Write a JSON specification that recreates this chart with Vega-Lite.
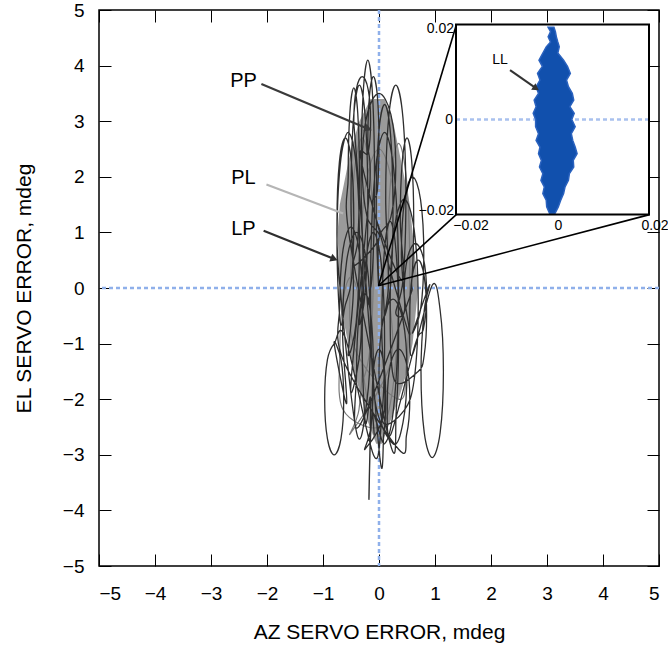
{
  "$schema": "https://vega.github.io/schema/vega-lite/v6.json",
  "width": 560,
  "height": 556,
  "autosize": {"type": "none"},
  "padding": {"left": 99, "top": 10, "right": 9, "bottom": 79},
  "background": "white",
  "config": {
    "view": {"stroke": "#000", "strokeWidth": 1.5},
    "axis": {"grid": false, "labelFont": "Liberation Sans", "titleFont": "Liberation Sans", "labelColor": "#000", "titleColor": "#000", "tickColor": "#000", "domainColor": "#000"},
    "text": {"font": "Liberation Sans"}
  },
  "datasets": {
    "dark": [
      {"i":0,"x":-0.2,"y":-0.3},{"i":1,"x":-0.115,"y":0.34},{"i":2,"x":-0.08,"y":1.9},{"i":3,"x":-0.115,"y":3.46},{"i":4,"x":-0.2,"y":4.1},{"i":5,"x":-0.285,"y":3.46},{"i":6,"x":-0.32,"y":1.9},{"i":7,"x":-0.285,"y":0.34},
      {"i":8,"x":-0.35,"y":-0.65},{"i":9,"x":-0.243,"y":-0.03},{"i":10,"x":-0.2,"y":1.5},{"i":11,"x":-0.243,"y":3.03},{"i":12,"x":-0.35,"y":3.65},{"i":13,"x":-0.457,"y":3.03},{"i":14,"x":-0.5,"y":1.5},{"i":15,"x":-0.457,"y":-0.03},
      {"i":16,"x":-0.55,"y":-1.2},{"i":17,"x":-0.408,"y":-0.62},{"i":18,"x":-0.35,"y":0.8},{"i":19,"x":-0.408,"y":2.22},{"i":20,"x":-0.55,"y":2.8},{"i":21,"x":-0.692,"y":2.22},{"i":22,"x":-0.75,"y":0.8},{"i":23,"x":-0.692,"y":-0.62},
      {"i":24,"x":-0.6,"y":-0.3},{"i":25,"x":-0.493,"y":0.13},{"i":26,"x":-0.45,"y":1.2},{"i":27,"x":-0.493,"y":2.27},{"i":28,"x":-0.6,"y":2.7},{"i":29,"x":-0.707,"y":2.27},{"i":30,"x":-0.75,"y":1.2},{"i":31,"x":-0.707,"y":0.13},
      {"i":32,"x":-0.4,"y":-2.6},{"i":33,"x":-0.222,"y":-2.08},{"i":34,"x":-0.15,"y":-0.8},{"i":35,"x":-0.222,"y":0.48},{"i":36,"x":-0.4,"y":1.0},{"i":37,"x":-0.578,"y":0.48},{"i":38,"x":-0.65,"y":-0.8},{"i":39,"x":-0.578,"y":-2.08},
      {"i":40,"x":-0.8,"y":-1.0},{"i":41,"x":-0.679,"y":-1.29},{"i":42,"x":-0.63,"y":-2.0},{"i":43,"x":-0.679,"y":-2.71},{"i":44,"x":-0.8,"y":-3.0},{"i":45,"x":-0.921,"y":-2.71},{"i":46,"x":-0.97,"y":-2.0},{"i":47,"x":-0.921,"y":-1.29},{"i":48,"x":-0.8,"y":-1.0},{"i":49,"x":-0.6,"y":-0.9},
      {"i":50,"x":-0.1,"y":-3.0},{"i":51,"x":0.042,"y":-2.42},{"i":52,"x":0.1,"y":-1.0},{"i":53,"x":0.042,"y":0.42},{"i":54,"x":-0.1,"y":1.0},{"i":55,"x":-0.242,"y":0.42},{"i":56,"x":-0.3,"y":-1.0},{"i":57,"x":-0.242,"y":-2.42},
      {"i":58,"x":-0.15,"y":-2.0},{"i":59,"x":-0.18,"y":-3.8},{"i":60,"x":-0.12,"y":-2.3},
      {"i":61,"x":0.1,"y":-2.8},{"i":62,"x":0.278,"y":-1.99},{"i":63,"x":0.35,"y":0},{"i":64,"x":0.278,"y":1.99},{"i":65,"x":0.1,"y":2.8},{"i":66,"x":-0.078,"y":1.99},{"i":67,"x":-0.15,"y":0},{"i":68,"x":-0.078,"y":-1.99},
      {"i":69,"x":0.25,"y":-2.8},{"i":70,"x":0.428,"y":-2.42},{"i":71,"x":0.5,"y":-1.5},{"i":72,"x":0.428,"y":-0.58},{"i":73,"x":0.25,"y":-0.2},{"i":74,"x":0.072,"y":-0.58},{"i":75,"x":0,"y":-1.5},{"i":76,"x":0.072,"y":-2.42},
      {"i":77,"x":0.45,"y":-2.2},{"i":78,"x":0.628,"y":-1.65},{"i":79,"x":0.7,"y":-0.3},{"i":80,"x":0.628,"y":1.05},{"i":81,"x":0.45,"y":1.6},{"i":82,"x":0.272,"y":1.05},{"i":83,"x":0.2,"y":-0.3},{"i":84,"x":0.272,"y":-1.65},
      {"i":85,"x":0.7,"y":-1.5},{"i":86,"x":0.807,"y":-1.21},{"i":87,"x":0.85,"y":-0.5},{"i":88,"x":0.807,"y":0.21},{"i":89,"x":0.7,"y":0.5},{"i":90,"x":0.593,"y":0.21},{"i":91,"x":0.55,"y":-0.5},{"i":92,"x":0.593,"y":-1.21},
      {"i":93,"x":0.95,"y":0.05},{"i":94,"x":1.092,"y":-0.4},{"i":95,"x":1.15,"y":-1.5},{"i":96,"x":1.092,"y":-2.6},{"i":97,"x":0.95,"y":-3.05},{"i":98,"x":0.808,"y":-2.6},{"i":99,"x":0.75,"y":-1.5},{"i":100,"x":0.808,"y":-0.4},{"i":101,"x":0.9,"y":0.05},
      {"i":102,"x":0.6,"y":-0.8},{"i":103,"x":0.742,"y":-0.39},{"i":104,"x":0.8,"y":0.6},{"i":105,"x":0.742,"y":1.59},{"i":106,"x":0.6,"y":2.0},{"i":107,"x":0.458,"y":1.59},{"i":108,"x":0.4,"y":0.6},{"i":109,"x":0.458,"y":-0.39},
      {"i":110,"x":0.3,"y":-0.45},{"i":111,"x":0.428,"y":0.14},{"i":112,"x":0.48,"y":1.6},{"i":113,"x":0.428,"y":3.06},{"i":114,"x":0.3,"y":3.65},{"i":115,"x":0.172,"y":3.06},{"i":116,"x":0.12,"y":1.6},{"i":117,"x":0.172,"y":0.14},
      {"i":118,"x":0.1,"y":-0.5},{"i":119,"x":0.207,"y":0.05},{"i":120,"x":0.25,"y":1.4},{"i":121,"x":0.207,"y":2.75},{"i":122,"x":0.1,"y":3.3},{"i":123,"x":-0.007,"y":2.75},{"i":124,"x":-0.05,"y":1.4},{"i":125,"x":-0.007,"y":0.05},
      {"i":126,"x":0,"y":0.9},{"i":127,"x":0.213,"y":1.28},{"i":128,"x":0.3,"y":2.2},{"i":129,"x":0.213,"y":3.12},{"i":130,"x":0,"y":3.5},{"i":131,"x":-0.213,"y":3.12},{"i":132,"x":-0.3,"y":2.2},{"i":133,"x":-0.213,"y":1.28},{"i":134,"x":0,"y":0.9},
      {"i":135,"x":-0.45,"y":0.4},{"i":136,"x":-0.379,"y":0.86},{"i":137,"x":-0.35,"y":2.0},{"i":138,"x":-0.379,"y":3.14},{"i":139,"x":-0.45,"y":3.6},{"i":140,"x":-0.521,"y":3.14},{"i":141,"x":-0.55,"y":2.0},{"i":142,"x":-0.521,"y":0.86},
      {"i":143,"x":0.2,"y":-2.8},{"i":144,"x":0.307,"y":-2.22},{"i":145,"x":0.35,"y":-0.8},{"i":146,"x":0.307,"y":0.62},{"i":147,"x":0.2,"y":1.2},{"i":148,"x":0.093,"y":0.62},{"i":149,"x":0.05,"y":-0.8},{"i":150,"x":0.093,"y":-2.22},
      {"i":151,"x":-0.25,"y":-2.9},{"i":152,"x":-0.143,"y":-2.49},{"i":153,"x":-0.1,"y":-1.5},{"i":154,"x":-0.143,"y":-0.51},{"i":155,"x":-0.25,"y":-0.1},{"i":156,"x":-0.357,"y":-0.51},{"i":157,"x":-0.4,"y":-1.5},{"i":158,"x":-0.357,"y":-2.49},
      {"i":159,"x":0.5,"y":-0.3},{"i":160,"x":0.585,"y":0.13},{"i":161,"x":0.62,"y":1.2},{"i":162,"x":0.585,"y":2.27},{"i":163,"x":0.5,"y":2.7},{"i":164,"x":0.415,"y":2.27},{"i":165,"x":0.38,"y":1.2},{"i":166,"x":0.415,"y":0.13},
      {"i":167,"x":-0.1,"y":1.4},{"i":168,"x":-0.029,"y":1.75},{"i":169,"x":0,"y":2.6},{"i":170,"x":-0.029,"y":3.45},{"i":171,"x":-0.1,"y":3.8},{"i":172,"x":-0.171,"y":3.45},{"i":173,"x":-0.2,"y":2.6},{"i":174,"x":-0.171,"y":1.75},
      {"i":175,"x":-0.5,"y":-1.7},{"i":176,"x":-0.358,"y":-1.29},{"i":177,"x":-0.3,"y":-0.3},{"i":178,"x":-0.358,"y":0.69},{"i":179,"x":-0.5,"y":1.1},{"i":180,"x":-0.642,"y":0.69},{"i":181,"x":-0.7,"y":-0.3},{"i":182,"x":-0.642,"y":-1.29},
      {"i":183,"x":0.35,"y":-2.9},{"i":184,"x":0.492,"y":-2.64},{"i":185,"x":0.55,"y":-2.0},{"i":186,"x":0.492,"y":-1.36},{"i":187,"x":0.35,"y":-1.1},{"i":188,"x":0.208,"y":-1.36},{"i":189,"x":0.15,"y":-2.0},{"i":190,"x":0.208,"y":-2.64},
      {"i":191,"x":0.65,"y":-1.0},{"i":192,"x":0.792,"y":-0.74},{"i":193,"x":0.85,"y":-0.1},{"i":194,"x":0.792,"y":0.54},{"i":195,"x":0.65,"y":0.8},{"i":196,"x":0.508,"y":0.54},{"i":197,"x":0.45,"y":-0.1},{"i":198,"x":0.508,"y":-0.74},
      {"i":199,"x":-0.3,"y":2.2},{"i":200,"x":-0.193,"y":2.43},{"i":201,"x":-0.15,"y":3.0},{"i":202,"x":-0.193,"y":3.57},{"i":203,"x":-0.3,"y":3.8},{"i":204,"x":-0.407,"y":3.57},{"i":205,"x":-0.45,"y":3.0},{"i":206,"x":-0.407,"y":2.43},
      {"i":207,"x":0,"y":-2.9},{"i":208,"x":0.085,"y":-2.64},{"i":209,"x":0.12,"y":-2.0},{"i":210,"x":0.085,"y":-1.36},{"i":211,"x":0,"y":-1.1},{"i":212,"x":-0.085,"y":-1.36},{"i":213,"x":-0.12,"y":-2.0},{"i":214,"x":-0.085,"y":-2.64}
    ],
    "light": [
      {"i":0,"x":-0.3,"y":-1.7},{"i":1,"x":-0.158,"y":-1.06},{"i":2,"x":-0.1,"y":0.5},{"i":3,"x":-0.158,"y":2.06},{"i":4,"x":-0.3,"y":2.7},{"i":5,"x":-0.442,"y":2.06},{"i":6,"x":-0.5,"y":0.5},{"i":7,"x":-0.442,"y":-1.06},
      {"i":8,"x":0.35,"y":-2.0},{"i":9,"x":0.492,"y":-1.33},{"i":10,"x":0.55,"y":0.3},{"i":11,"x":0.492,"y":1.93},{"i":12,"x":0.35,"y":2.6},{"i":13,"x":0.208,"y":1.93},{"i":14,"x":0.15,"y":0.3},{"i":15,"x":0.208,"y":-1.33},
      {"i":16,"x":-0.5,"y":-2.6},{"i":17,"x":-0.358,"y":-2.19},{"i":18,"x":-0.3,"y":-1.2},{"i":19,"x":-0.358,"y":-0.21},{"i":20,"x":-0.5,"y":0.2},{"i":21,"x":-0.642,"y":-0.21},{"i":22,"x":-0.7,"y":-1.2},{"i":23,"x":-0.642,"y":-2.19},
      {"i":24,"x":0,"y":-2.5},{"i":25,"x":0.249,"y":-1.78},{"i":26,"x":0.35,"y":0},{"i":27,"x":0.249,"y":1.78},{"i":28,"x":0,"y":2.5},{"i":29,"x":-0.249,"y":1.78},{"i":30,"x":-0.35,"y":0},{"i":31,"x":-0.249,"y":-1.78},{"i":32,"x":0,"y":-2.5}
    ],
    "core": [
      {"y":-2.8,"x1":-0.05,"x2":0.05},{"y":-2.4,"x1":-0.2,"x2":0.2},{"y":-2.0,"x1":-0.3,"x2":0.35},{"y":-1.5,"x1":-0.45,"x2":0.5},
      {"y":-1.0,"x1":-0.55,"x2":0.6},{"y":-0.5,"x1":-0.65,"x2":0.65},{"y":0,"x1":-0.7,"x2":0.7},{"y":0.5,"x1":-0.72,"x2":0.65},
      {"y":1.0,"x1":-0.74,"x2":0.6},{"y":1.5,"x1":-0.7,"x2":0.55},{"y":2.0,"x1":-0.6,"x2":0.45},{"y":2.5,"x1":-0.5,"x2":0.35},
      {"y":3.0,"x1":-0.35,"x2":0.25},{"y":3.4,"x1":-0.15,"x2":0.1}
    ],
    "labels": [
      {"t":"PP","x":-2.42,"y":3.73},{"t":"PL","x":-2.42,"y":1.98},{"t":"LP","x":-2.42,"y":1.07}
    ],
    "arrows": [
      {"k":"PP","x":-2.1,"y":3.67,"x2":-0.21,"y2":2.87,"a":113},
      {"k":"PL","x":-2.01,"y":1.86,"x2":-0.64,"y2":1.34,"a":110},
      {"k":"LP","x":-2.06,"y":1.03,"x2":-0.82,"y2":0.53,"a":111}
    ],
    "zoomlines": [
      {"x":-0.01,"y":0.04,"x2":1.38,"y2":4.73},
      {"x":-0.01,"y":0.04,"x2":1.38,"y2":1.32},
      {"x":-0.01,"y":0.04,"x2":4.83,"y2":1.32}
    ],
    "blob": [
      {"y":0.0194,"x1":-0.0009,"x2":0.0003},{"y":0.0185,"x1":-0.0004,"x2":0.0006},{"y":0.0174,"x1":-0.0009,"x2":0.0008},
      {"y":0.0163,"x1":-0.0004,"x2":0.0011},{"y":0.0153,"x1":-0.0013,"x2":0.0014},{"y":0.014,"x1":-0.002,"x2":0.0011},
      {"y":0.0125,"x1":-0.0028,"x2":0.0023},{"y":0.0112,"x1":-0.0021,"x2":0.0031},{"y":0.0097,"x1":-0.0031,"x2":0.0037},
      {"y":0.0083,"x1":-0.0026,"x2":0.0029},{"y":0.0069,"x1":-0.0034,"x2":0.0033},{"y":0.0055,"x1":-0.0029,"x2":0.0041},
      {"y":0.0041,"x1":-0.0038,"x2":0.0044},{"y":0.0027,"x1":-0.0034,"x2":0.0036},{"y":0.0013,"x1":-0.004,"x2":0.0045},
      {"y":0.0,"x1":-0.0035,"x2":0.004},{"y":-0.0015,"x1":-0.0035,"x2":0.0047},{"y":-0.003,"x1":-0.0029,"x2":0.0039},
      {"y":-0.0044,"x1":-0.0034,"x2":0.0042},{"y":-0.0058,"x1":-0.0026,"x2":0.0047},{"y":-0.0072,"x1":-0.0029,"x2":0.0051},
      {"y":-0.0086,"x1":-0.0023,"x2":0.0043},{"y":-0.01,"x1":-0.0027,"x2":0.0044},{"y":-0.0114,"x1":-0.002,"x2":0.0035},
      {"y":-0.0128,"x1":-0.0024,"x2":0.0033},{"y":-0.0142,"x1":-0.0017,"x2":0.0026},{"y":-0.0156,"x1":-0.002,"x2":0.0023},
      {"y":-0.017,"x1":-0.0013,"x2":0.0017},{"y":-0.0184,"x1":-0.0012,"x2":0.0012},{"y":-0.0198,"x1":-0.0006,"x2":0.0005}
    ],
    "insetTicks": [
      {"t":"\u22120.02","v":-0.02},{"t":"0","v":0},{"t":"0.02","v":0.02}
    ]
  },
  "layer": [
    {
      "layer": [
        {
          "data": {"name": "core"},
          "mark": {"type": "area", "orient": "horizontal", "color": "#959595", "opacity": 0.95},
          "encoding": {
            "y": {"field": "y", "type": "quantitative", "scale": {"domain": [-5, 5], "nice": false, "zero": false},
              "axis": {"values": [-5,-4,-3,-2,-1,0,1,2,3,4,5], "tickSize": -12, "labelPadding": 27, "labelFontSize": 19, "domain": false, "title": "EL SERVO ERROR, mdeg", "titleFontSize": 21, "titleFontWeight": "normal", "titlePadding": 28}},
            "x": {"field": "x1", "type": "quantitative", "scale": {"domain": [-5, 5], "nice": false, "zero": false},
              "axis": {"values": [-5,-4,-3,-2,-1,0,1,2,3,4,5], "tickSize": -12, "labelPadding": 30, "labelFontSize": 19, "domain": false, "title": "AZ SERVO ERROR, mdeg", "titleFontSize": 21, "titleFontWeight": "normal", "titlePadding": 18}},
            "x2": {"field": "x2"}
          }
        },
        {
          "data": {"values": [{}]},
          "mark": {"type": "rule", "color": "#8fb0ea", "strokeWidth": 2.5, "strokeDash": [4, 3]},
          "encoding": {"x": {"datum": 0, "type": "quantitative"}}
        },
        {
          "data": {"values": [{}]},
          "mark": {"type": "rule", "color": "#8fb0ea", "strokeWidth": 2.5, "strokeDash": [4, 3]},
          "encoding": {"y": {"datum": 0, "type": "quantitative"}}
        },
        {
          "data": {"name": "light"},
          "mark": {"type": "line", "color": "#7a7a7a", "strokeWidth": 1.2, "interpolate": "cardinal"},
          "encoding": {
            "x": {"field": "x", "type": "quantitative"},
            "y": {"field": "y", "type": "quantitative"},
            "order": {"field": "i"}
          }
        },
        {
          "data": {"name": "dark"},
          "mark": {"type": "line", "color": "#2e2e2e", "strokeWidth": 1.3, "interpolate": "cardinal"},
          "encoding": {
            "x": {"field": "x", "type": "quantitative"},
            "y": {"field": "y", "type": "quantitative"},
            "order": {"field": "i"}
          }
        },
        {
          "data": {"name": "arrows"},
          "mark": {"type": "rule", "strokeWidth": 2.2},
          "encoding": {
            "x": {"field": "x", "type": "quantitative"},
            "y": {"field": "y", "type": "quantitative"},
            "x2": {"field": "x2"},
            "y2": {"field": "y2"},
            "color": {"field": "k", "type": "nominal", "scale": {"domain": ["PP", "PL", "LP"], "range": ["#3a3a3a", "#b5b5b5", "#2e2e2e"]}, "legend": null}
          }
        },
        {
          "data": {"name": "arrows"},
          "transform": [{"filter": "datum.k !== 'PL'"}],
          "mark": {"type": "point", "shape": "triangle", "filled": true, "size": 70, "opacity": 1},
          "encoding": {
            "x": {"field": "x2", "type": "quantitative"},
            "y": {"field": "y2", "type": "quantitative"},
            "angle": {"field": "a", "type": "quantitative", "scale": null},
            "color": {"field": "k", "type": "nominal", "legend": null}
          }
        },
        {
          "data": {"name": "labels"},
          "mark": {"type": "text", "fontSize": 20, "color": "#000"},
          "encoding": {
            "x": {"field": "x", "type": "quantitative"},
            "y": {"field": "y", "type": "quantitative"},
            "text": {"field": "t"}
          }
        },
        {
          "data": {"name": "zoomlines"},
          "mark": {"type": "rule", "color": "#000", "strokeWidth": 1.6},
          "encoding": {
            "x": {"field": "x", "type": "quantitative"},
            "y": {"field": "y", "type": "quantitative"},
            "x2": {"field": "x2"},
            "y2": {"field": "y2"}
          }
        }
      ]
    },
    {
      "layer": [
        {
          "data": {"values": [{"x": -5, "y": -5}, {"x": 5, "y": 5}]},
          "mark": {"type": "point", "opacity": 0},
          "encoding": {
            "x": {"field": "x", "type": "quantitative", "scale": {"domain": [-5, 5], "nice": false, "zero": false},
              "axis": {"orient": "top", "values": [-5,-4,-3,-2,-1,0,1,2,3,4,5], "tickSize": -12, "labels": false, "domain": false, "title": null}},
            "y": {"field": "y", "type": "quantitative", "scale": {"domain": [-5, 5], "nice": false, "zero": false},
              "axis": {"orient": "right", "values": [-5,-4,-3,-2,-1,0,1,2,3,4,5], "tickSize": -12, "labels": false, "domain": false, "title": null}}
          }
        }
      ]
    },
    {
      "layer": [
        {
          "data": {"values": [{}]},
          "mark": {"type": "rect", "fill": "white", "stroke": null},
          "encoding": {
            "x": {"datum": -0.02, "type": "quantitative", "scale": {"domain": [-0.02, 0.02], "range": [357, 550], "nice": false, "zero": false}, "axis": null},
            "x2": {"datum": 0.02},
            "y": {"datum": -0.02, "type": "quantitative", "scale": {"domain": [-0.02, 0.02], "range": [204.5, 14.5], "nice": false, "zero": false}, "axis": null},
            "y2": {"datum": 0.02}
          }
        },
        {
          "data": {"values": [{}]},
          "mark": {"type": "rule", "color": "#a9c1ee", "strokeWidth": 2.5, "strokeDash": [4, 3]},
          "encoding": {
            "x": {"datum": -0.02, "type": "quantitative", "axis": null},
            "x2": {"datum": 0.02},
            "y": {"datum": 0, "type": "quantitative", "axis": null}
          }
        },
        {
          "data": {"name": "blob"},
          "mark": {"type": "area", "orient": "horizontal", "color": "#1150ad", "stroke": "#2a62bf", "strokeWidth": 1.5},
          "encoding": {
            "y": {"field": "y", "type": "quantitative", "axis": null},
            "x": {"field": "x1", "type": "quantitative", "axis": null},
            "x2": {"field": "x2"}
          }
        },
        {
          "data": {"values": [{"x": -0.0088, "y": 0.0104, "x2": -0.0036, "y2": 0.0067}]},
          "mark": {"type": "rule", "color": "#333", "strokeWidth": 2},
          "encoding": {
            "x": {"field": "x", "type": "quantitative", "axis": null},
            "y": {"field": "y", "type": "quantitative", "axis": null},
            "x2": {"field": "x2"},
            "y2": {"field": "y2"}
          }
        },
        {
          "data": {"values": [{"x": -0.0036, "y": 0.0067, "a": 124}]},
          "mark": {"type": "point", "shape": "triangle", "filled": true, "size": 60, "color": "#333", "opacity": 1},
          "encoding": {
            "x": {"field": "x", "type": "quantitative", "axis": null},
            "y": {"field": "y", "type": "quantitative", "axis": null},
            "angle": {"field": "a", "type": "quantitative", "scale": null}
          }
        },
        {
          "data": {"values": [{"t": "LL", "x": -0.0109, "y": 0.0125}]},
          "mark": {"type": "text", "fontSize": 14, "color": "#000"},
          "encoding": {
            "x": {"field": "x", "type": "quantitative", "axis": null},
            "y": {"field": "y", "type": "quantitative", "axis": null},
            "text": {"field": "t"}
          }
        },
        {
          "data": {"values": [{}]},
          "mark": {"type": "rect", "fill": null, "stroke": "#000", "strokeWidth": 2},
          "encoding": {
            "x": {"datum": -0.02, "type": "quantitative", "axis": null},
            "x2": {"datum": 0.02},
            "y": {"datum": -0.02, "type": "quantitative", "axis": null},
            "y2": {"datum": 0.02}
          }
        },
        {
          "data": {"name": "insetTicks"},
          "transform": [{"filter": "datum.v > 0"}],
          "mark": {"type": "text", "fontSize": 14, "align": "right", "baseline": "middle", "dx": -2, "dy": 4, "color": "#000"},
          "encoding": {
            "x": {"datum": -0.02, "type": "quantitative", "axis": null},
            "y": {"field": "v", "type": "quantitative", "axis": null},
            "text": {"field": "t"}
          }
        },
        {
          "data": {"name": "insetTicks"},
          "transform": [{"filter": "datum.v === 0"}],
          "mark": {"type": "text", "fontSize": 14, "align": "right", "baseline": "middle", "dx": -3, "color": "#000"},
          "encoding": {
            "x": {"datum": -0.02, "type": "quantitative", "axis": null},
            "y": {"field": "v", "type": "quantitative", "axis": null},
            "text": {"field": "t"}
          }
        },
        {
          "data": {"name": "insetTicks"},
          "transform": [{"filter": "datum.v < 0"}],
          "mark": {"type": "text", "fontSize": 14, "align": "right", "baseline": "middle", "dx": -2, "dy": -4, "color": "#000"},
          "encoding": {
            "x": {"datum": -0.02, "type": "quantitative", "axis": null},
            "y": {"field": "v", "type": "quantitative", "axis": null},
            "text": {"field": "t"}
          }
        },
        {
          "data": {"name": "insetTicks"},
          "transform": [{"filter": "datum.v < 0"}],
          "mark": {"type": "text", "fontSize": 14, "align": "center", "baseline": "top", "dx": 15, "dy": 4, "color": "#000"},
          "encoding": {
            "x": {"field": "v", "type": "quantitative", "axis": null},
            "y": {"datum": -0.02, "type": "quantitative", "axis": null},
            "text": {"field": "t"}
          }
        },
        {
          "data": {"name": "insetTicks"},
          "transform": [{"filter": "datum.v >= 0"}],
          "mark": {"type": "text", "fontSize": 14, "align": "center", "baseline": "top", "dx": 6, "dy": 4, "color": "#000"},
          "encoding": {
            "x": {"field": "v", "type": "quantitative", "axis": null},
            "y": {"datum": -0.02, "type": "quantitative", "axis": null},
            "text": {"field": "t"}
          }
        }
      ]
    }
  ],
  "resolve": {"scale": {"x": "independent", "y": "independent", "color": "independent", "angle": "independent"}, "axis": {"x": "independent", "y": "independent"}}
}
